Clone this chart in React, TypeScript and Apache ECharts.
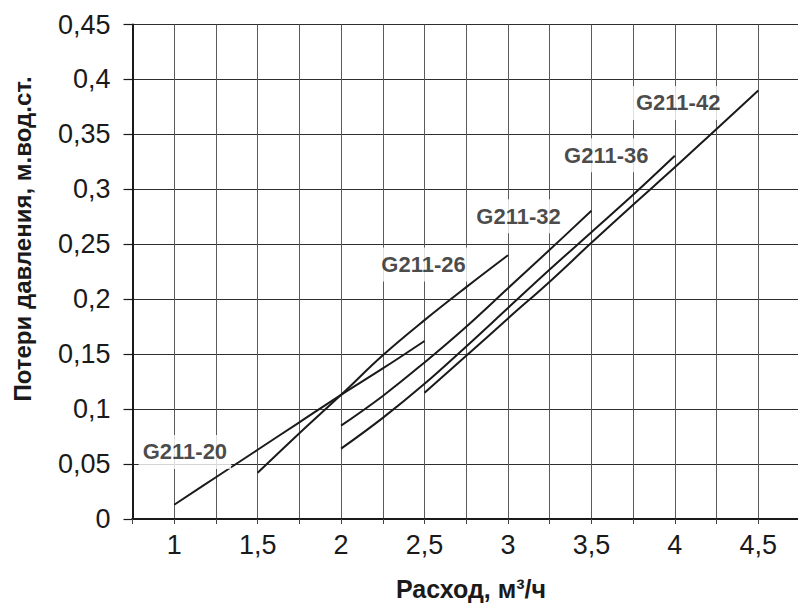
import React, { useEffect, useRef } from "react";
import * as echarts from "echarts";

const xTickValues = [1, 1.5, 2, 2.5, 3, 3.5, 4, 4.5];
const xTickLabels = ["1", "1,5", "2", "2,5", "3", "3,5", "4", "4,5"];
const yTickValues = [0, 0.05, 0.1, 0.15, 0.2, 0.25, 0.3, 0.35, 0.4, 0.45];
const yTickLabels = ["0", "0,05", "0,1", "0,15", "0,2", "0,25", "0,3", "0,35", "0,4", "0,45"];

const flow20 = [1, 1.25, 1.5, 1.75, 2, 2.25, 2.5];
const loss20 = [0.013, 0.038, 0.063, 0.088, 0.113, 0.137, 0.162];
const flow26 = [1.5, 1.75, 2, 2.25, 2.5, 2.75, 3];
const loss26 = [0.042, 0.078, 0.113, 0.149, 0.181, 0.211, 0.24];
const flow32 = [2, 2.25, 2.5, 2.75, 3, 3.25, 3.5];
const loss32 = [0.085, 0.112, 0.1425, 0.175, 0.21, 0.245, 0.2805];
const flow36 = [2, 2.25, 2.5, 2.75, 3, 3.25, 3.5, 3.75, 4];
const loss36 = [0.064, 0.092, 0.123, 0.157, 0.192, 0.227, 0.261, 0.295, 0.3305];
const flow42 = [2.5, 2.75, 3, 3.25, 3.5, 3.75, 4, 4.25, 4.5];
const loss42 = [0.115, 0.1485, 0.1825, 0.216, 0.2513, 0.286, 0.32, 0.355, 0.39];

const seriesNames = ["G211-20", "G211-26", "G211-32", "G211-36", "G211-42"];
const labelX = [1.064, 2.494, 3.063, 3.589, 4.02];
const labelY = [0.061, 0.2315, 0.2755, 0.331, 0.3786];

const xTitle = "Расход, м³/ч";
const yTitle = "Потери давления, м.вод.ст.";

const FONT = "'Liberation Sans', Arial, Helvetica, sans-serif";
const INK = "#1a1a1a";

function near(a: number, b: number) {
  return Math.abs(a - b) < 1e-6;
}

export default function App() {
  const ref = useRef<HTMLDivElement>(null);
  useEffect(() => {
    if (!ref.current) return;
    const chart = echarts.init(ref.current, null, { renderer: "svg" });
    const flows = [flow20, flow26, flow32, flow36, flow42];
    const losses = [loss20, loss26, loss32, loss36, loss42];
    const lineSeries = seriesNames.map((name, i) => ({
      name,
      type: "line",
      data: flows[i].map((f, j) => [f, losses[i][j]]),
      symbol: "none",
      smooth: 0.4,
      lineStyle: { color: INK, width: 2 },
      z: 3,
    }));
    const option = {
      animation: false,
      backgroundColor: "#ffffff",
      grid: { left: 132.5, top: 24.5, right: 0, bottom: 86, containLabel: false },
      xAxis: [
        {
          type: "value",
          min: 0.75,
          max: 4.75,
          interval: 0.25,
          axisLine: { show: true, onZero: false, lineStyle: { color: INK, width: 2 } },
          axisTick: { show: true, length: 5, lineStyle: { color: "#444", width: 1 } },
          axisLabel: {
            margin: 12,
            color: INK,
            fontSize: 27,
            fontFamily: FONT,
            formatter: (v: number) => {
              const k = xTickValues.findIndex((t) => near(t, v));
              return k >= 0 ? xTickLabels[k] : "";
            },
          },
          splitLine: { show: true, lineStyle: { color: "#5a5a5a", width: 1 } },
        },
        {
          type: "value",
          position: "top",
          min: 0.75,
          max: 4.75,
          interval: 0.25,
          axisLine: { show: true, lineStyle: { color: INK, width: 2 } },
          axisTick: { show: false },
          axisLabel: { show: false },
          splitLine: { show: false },
        },
      ],
      yAxis: {
        type: "value",
        min: 0,
        max: 0.45,
        interval: 0.05,
        axisLine: { show: true, lineStyle: { color: INK, width: 2 } },
        axisTick: { show: true, length: 9, lineStyle: { color: INK, width: 1.2 } },
        axisLabel: {
          margin: 22,
          color: INK,
          fontSize: 27,
          fontFamily: FONT,
          formatter: (v: number) => {
            const k = yTickValues.findIndex((t) => near(t, v));
            return k >= 0 ? yTickLabels[k] : "";
          },
        },
        splitLine: { show: true, lineStyle: { color: "#2e2e2e", width: 1 } },
      },
      series: [
        ...lineSeries,
        {
          type: "scatter",
          symbolSize: 0,
          z: 4,
          data: seriesNames.map((n, i) => ({ value: [labelX[i], labelY[i]], name: n })),
          label: {
            show: true,
            position: "inside",
            formatter: (p: any) => p.name,
            color: INK,
            fontSize: 22,
            fontWeight: "bold",
            fontFamily: FONT,
            backgroundColor: "#ffffff",
            padding: [7, 4, 5, 4],
          },
          emphasis: { disabled: true },
        },
      ],
      graphic: [
        {
          type: "text",
          x: 471,
          y: 589,
          style: {
            text: xTitle,
            font: `bold 25px ${FONT}`,
            fill: INK,
            textAlign: "center",
            textVerticalAlign: "middle",
          },
        },
        {
          type: "text",
          x: 22,
          y: 239,
          rotation: Math.PI / 2,
          style: {
            text: yTitle,
            font: `bold 24px ${FONT}`,
            fill: INK,
            textAlign: "center",
            textVerticalAlign: "middle",
          },
        },
      ],
    };
    chart.setOption(option as any);
    return () => chart.dispose();
  }, []);
  return (
    <div style={{ position: "fixed", left: 0, top: 0, width: 798, height: 605, overflow: "hidden", background: "#fff" }}>
      <div ref={ref} style={{ position: "absolute", left: 0, top: 0, width: 803, height: 605 }} />
    </div>
  );
}
